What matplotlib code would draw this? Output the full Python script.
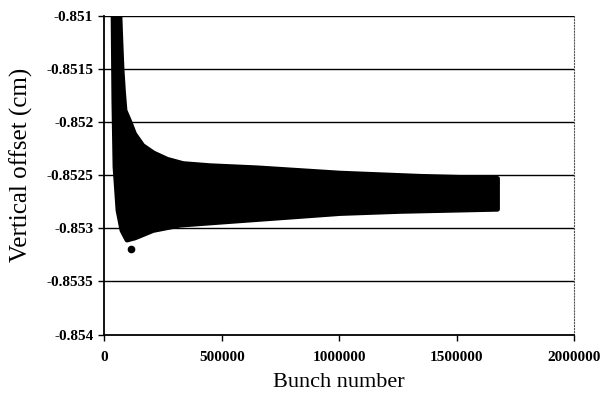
import matplotlib
matplotlib.use("Agg")
import matplotlib.pyplot as plt

# envelope of the scatter cloud
upper_bunch = [36700, 66000, 70000, 74600, 81000, 87400, 108700, 128000,
               163000, 209000, 268000, 335000, 450000, 650000, 1004000,
               1345000, 1674000]
upper_val = [-0.85101, -0.85101, -0.85125, -0.8515, -0.85172, -0.85189,
             -0.8520, -0.85211, -0.85222, -0.85229, -0.85235, -0.85239,
             -0.85241, -0.85243, -0.85248, -0.85251, -0.85253]
lower_bunch = [36700, 40000, 44800, 57600, 74600, 96000, 130000, 207000,
               322000, 505000, 1004000, 1260000, 1674000]
lower_val = [-0.85101, -0.85180, -0.85242, -0.85283, -0.85302, -0.85311,
             -0.85309, -0.85302, -0.85297, -0.85294, -0.85286, -0.85284,
             -0.85282]
outlier_bunch = [113000]
outlier_val = [-0.85319]

xticks = [0, 500000, 1000000, 1500000, 2000000]
yticks = [-0.851, -0.8515, -0.852, -0.8525, -0.853, -0.8535, -0.854]
ylabels = ["-0.851", "-0.8515", "-0.852", "-0.8525", "-0.853", "-0.8535", "-0.854"]

plt.rcParams['font.family'] = ['Liberation Serif', 'DejaVu Serif']

fig = plt.figure(figsize=(6.05, 4.01), dpi=100)
ax = fig.add_axes([0.1727, 0.1658, 0.7761, 0.7942])

# band outline: along the top, then back along the bottom
px = upper_bunch + lower_bunch[::-1]
py = upper_val + lower_val[::-1]
ax.fill(px, py, color="black", edgecolor="black", linewidth=3.5,
        joinstyle="round", zorder=3)
ax.plot(outlier_bunch, outlier_val, "o", color="black", markersize=4.5, zorder=3)

ax.set_xlim(0, 2000000)
ax.set_ylim(-0.854, -0.851)
ax.set_xticks(xticks)
ax.set_xticklabels([str(t) for t in xticks])
ax.set_yticks(yticks)
ax.set_yticklabels(ylabels)

for y in yticks[:-1]:
    ax.axhline(y, color="black", linewidth=1.0, zorder=1)

ax.spines["top"].set_visible(False)
ax.spines["right"].set_linestyle(":")
ax.spines["right"].set_color("#555555")
ax.spines["left"].set_linewidth(1.3)
ax.spines["bottom"].set_linewidth(1.3)

ax.tick_params(direction="out", length=4, width=1, labelsize=11, pad=4)
ax.tick_params(axis="x", pad=8)
for lab in ax.get_xticklabels() + ax.get_yticklabels():
    lab.set_fontweight("bold")
ax.set_xlabel("Bunch number", fontsize=16, labelpad=6)
ax.set_ylabel("Vertical offset (cm)", fontsize=18)
ax.yaxis.set_label_coords(-0.152, 0.532)

fig.savefig("out.png", dpi=100)
